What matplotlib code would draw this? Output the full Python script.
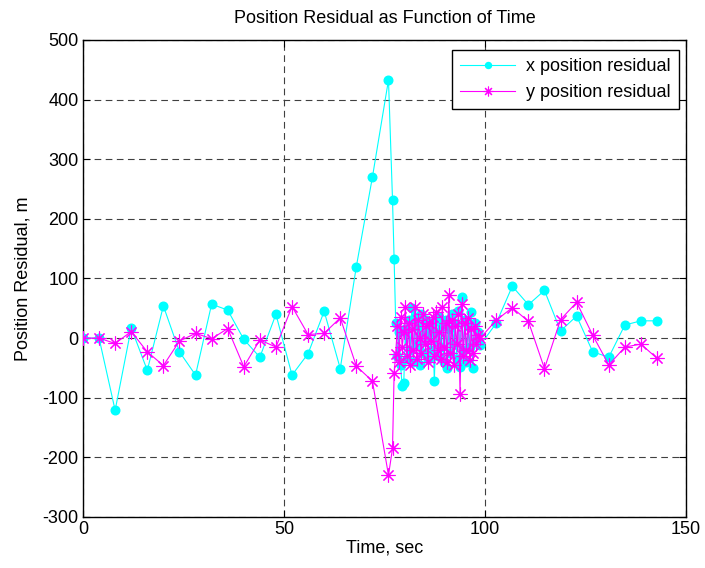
import matplotlib
matplotlib.use("Agg")
import matplotlib.pyplot as plt

plt.rcParams['font.family'] = ['Liberation Sans', 'DejaVu Sans']
plt.rcParams['axes.unicode_minus'] = False

# ---------------------------------------------------------------------------
# data
# ---------------------------------------------------------------------------
time_sec = [
    0, 4, 8, 12, 16, 20, 24, 28, 32, 36, 40, 44, 48, 52, 56, 60, 64, 68, 72, 76,
    77.0, 77.4,
    77.8, 78.2, 78.6, 79.0, 79.4, 79.8, 80.2, 80.6, 81.0, 81.4, 81.8, 82.2, 82.6,
    83.0, 83.4, 83.8, 84.2, 84.6, 85.0, 85.4, 85.8, 86.2, 86.6, 87.0, 87.4, 87.8,
    88.2, 88.6, 89.0, 89.4, 89.8, 90.2, 90.6, 91.0, 91.4, 91.8, 92.2, 92.6, 93.0,
    93.4, 93.8, 94.2, 94.6, 95.0, 95.4, 95.8, 96.2, 96.6, 97.0, 97.4, 97.8, 98.2,
    98.8, 102.8, 106.8, 110.8, 114.8, 118.8, 122.8, 126.8, 130.8, 134.8, 138.8, 142.8,
]

x_resid = [
    0, 0, -121, 17, -54, 54, -23, -62, 57, 47, -2, -32, 40, -62, -26, 45, -51, 120, 270, 433,
    232, 132,
    25, -30, 10, -45, -80, -75, 15, -35, 30, -20, 50, -40, 35,
    -10, 20, -45, 40, -25, 5, 30, -35, 15, -20, 25, -72, 10,
    -30, 35, -15, 20, -40, 30, -50, 15, -25, 40, -10, 25, -35,
    45, -48, 69, -20, 30, -40, 20, -15, 43, -50, 25, -5, 10,
    -12, 25, 87, 56, 80, 12, 37, -23, -32, 22, 29, 29,
]

y_resid = [
    0, 0, -9, 11, -23, -46, -5, 8, -1, 16, -48, -3, -15, 53, 6, 8, 34, -47, -72, -230,
    -185, -59,
    -26, 20, -40, 35, -15, 10, 53, -30, 25, -45, 15, -20, 53,
    -35, 30, 0, -25, 40, -10, 20, -40, 25, -5, 35, -30, 44,
    -20, 10, -35, 53, -15, 25, -40, 72, -25, 30, -45, 20, -10,
    40, -94, 58, -30, 25, -20, 34, -36, 15, -25, 20, -10, 5,
    0, 30, 51, 28, -51, 31, 60, 5, -45, -15, -10, -34,
]

x_ticks = [0, 50, 100, 150]
y_ticks = [-300, -200, -100, 0, 100, 200, 300, 400, 500]

# ---------------------------------------------------------------------------
# figure
# ---------------------------------------------------------------------------
fig = plt.figure(figsize=(7.05, 5.68), dpi=100)
ax = fig.add_axes([0.1177, 0.0898, 0.8553, 0.8398])

ax.plot(time_sec, x_resid, color='cyan', lw=0.8, marker='o', ms=6.2,
        mfc='cyan', mec='cyan', label='x position residual', zorder=3)
ax.plot(time_sec, y_resid, color='magenta', lw=0.8, marker=(8, 2, 0), ms=10,
        mfc='magenta', mec='magenta', mew=0.8, label='y position residual', zorder=4)

ax.set_xlim(0, 150)
ax.set_ylim(-300, 500)
ax.set_xticks(x_ticks)
ax.set_yticks(y_ticks)
ax.tick_params(direction='in', top=True, right=True, labelsize=13, length=5, pad=3)

ax.grid(True, color='0.25', linestyle=(0, (6, 4)), linewidth=0.8)
for s in ax.spines.values():
    s.set_linewidth(1.0)

ax.set_title('Position Residual as Function of Time', fontsize=13, pad=12)
ax.set_xlabel('Time, sec', fontsize=13, labelpad=1)
ax.set_ylabel('Position Residual, m', fontsize=13, labelpad=8)

# legend box sits ~7 px in from the right and ~10 px down from the top
leg = ax.legend(loc='upper right', bbox_to_anchor=(1 - 7 / 603, 1 - 10 / 477),
                borderaxespad=0, fontsize=13, fancybox=False, framealpha=1,
                edgecolor='black', handlelength=3.05, handletextpad=0.6,
                labelspacing=0.5, borderpad=0.45, markerscale=0.7)
leg.get_frame().set_linewidth(1.0)

fig.savefig('out.png', dpi=100)
